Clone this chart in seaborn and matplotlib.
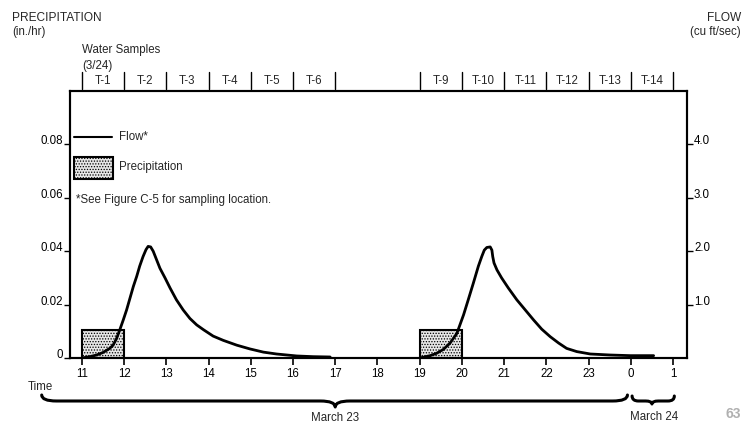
import matplotlib
matplotlib.use("Agg")
import matplotlib.pyplot as plt
import matplotlib.transforms as mtransforms
from matplotlib.path import Path
from matplotlib.patches import PathPatch, Rectangle
from matplotlib.lines import Line2D
import seaborn as sns
import pandas as pd

# ---------------- data ----------------
# flow hydrograph, event 1 (hours on March 23, cu ft/sec)
flow1_hours = [11.0, 11.19, 11.35, 11.51, 11.66, 11.74, 11.82, 11.90, 11.98, 12.06,
               12.14, 12.22, 12.30, 12.37, 12.45, 12.52, 12.57, 12.63, 12.69, 12.77,
               12.85, 12.97, 13.09, 13.24, 13.40, 13.56, 13.72, 13.88, 14.11, 14.35,
               14.67, 14.98, 15.30, 15.61, 16.09, 16.48, 16.88]
flow1_cfs = [0.0, 0.025, 0.056, 0.106, 0.18, 0.24, 0.36, 0.53, 0.71, 0.90,
             1.12, 1.34, 1.53, 1.72, 1.90, 2.03, 2.09, 2.08, 2.00, 1.84,
             1.68, 1.50, 1.31, 1.09, 0.90, 0.74, 0.62, 0.53, 0.41, 0.33,
             0.24, 0.17, 0.11, 0.075, 0.038, 0.025, 0.019]
# flow hydrograph, event 2
flow2_hours = [19.0, 19.25, 19.40, 19.56, 19.72, 19.88, 20.04, 20.15, 20.27, 20.39,
               20.47, 20.53, 20.59, 20.67, 20.71, 20.73, 20.76, 20.83, 20.94, 21.10,
               21.30, 21.50, 21.70, 21.89, 22.09, 22.29, 22.48, 22.72, 23.04, 23.51,
               23.99, 24.54]
flow2_cfs = [0.0, 0.044, 0.088, 0.16, 0.28, 0.46, 0.81, 1.09, 1.40, 1.72,
             1.90, 2.02, 2.07, 2.08, 2.02, 1.90, 1.78, 1.65, 1.50, 1.31,
             1.09, 0.90, 0.71, 0.54, 0.40, 0.28, 0.18, 0.12, 0.075, 0.056,
             0.044, 0.044]

# precipitation (start hour, duration in hours, intensity in./hr)
precip_start = [11, 19]
precip_duration = [1, 1]
precip_rate = [0.0105, 0.0105]

# x-axis hour ticks (24 = midnight March 24)
hour_ticks = [11, 12, 13, 14, 15, 16, 17, 18, 19, 20, 21, 22, 23, 24, 25]
hour_labels = ["11", "12", "13", "14", "15", "16", "17", "18", "19", "20",
               "21", "22", "23", "0", "1"]

left_ticks = [0, 0.02, 0.04, 0.06, 0.08]
left_labels = ["0", "0.02", "0.04", "0.06", "0.08"]
right_ticks = [1, 2, 3, 4]
right_labels = ["1.0", "2.0", "3.0", "4.0"]

# water sample intervals
sample_names = ["T-1", "T-2", "T-3", "T-4", "T-5", "T-6",
                "T-9", "T-10", "T-11", "T-12", "T-13", "T-14"]
sample_start = [11, 12, 13, 14, 15, 16, 19, 20, 21, 22, 23, 24]

# ---------------- style ----------------
sns.set_style("white")
plt.rcParams["font.family"] = ["Liberation Sans", "DejaVu Sans"]
plt.rcParams["hatch.linewidth"] = 0.6
FS = 8.3

W, H = 751, 425
fig = plt.figure(figsize=(W / 100, H / 100), dpi=100)
L, R, T, B = 70, 687, 91, 358
ax = fig.add_axes([L / W, 1 - B / H, (R - L) / W, (B - T) / H])
ax2 = ax.twinx()

ax.set_xlim(10.72, 25.33)
ax.set_ylim(0, 0.1)
ax2.set_ylim(0, 5.0)

# precipitation boxes
ax.bar(precip_start, precip_rate, width=precip_duration, align="edge",
       facecolor="#e6e6e6", edgecolor="black", linewidth=1.5, hatch="......",
       zorder=2)

# flow
df = pd.DataFrame({
    "hour": flow1_hours + flow2_hours,
    "flow": flow1_cfs + flow2_cfs,
    "event": ["a"] * len(flow1_hours) + ["b"] * len(flow2_hours),
})
sns.lineplot(data=df, x="hour", y="flow", units="event", estimator=None,
             color="black", linewidth=2.0, ax=ax2, legend=False, zorder=3,
             solid_joinstyle="round", solid_capstyle="round")

# ticks
ax.set_xticks(hour_ticks)
ax.set_xticklabels(hour_labels, fontsize=FS)
ax.set_yticks(left_ticks)
ax.set_yticklabels(left_labels, fontsize=FS)
ax2.set_yticks(right_ticks)
ax2.set_yticklabels(right_labels, fontsize=FS)
ax.tick_params(axis="x", direction="out", length=5, width=1.2, pad=2, colors="black")
ax.tick_params(axis="y", direction="out", length=4, width=1.0, pad=1, colors="black")
ax2.tick_params(axis="y", direction="out", length=4, width=1.0, pad=1, colors="black")
ax.tick_params(left=True, bottom=True)
ax2.tick_params(right=True)
for lbl in ax.get_yticklabels() + ax2.get_yticklabels():
    lbl.set_va("baseline")
ax.set_xlabel("")
ax.set_ylabel("")
ax2.set_xlabel("")
ax2.set_ylabel("")
for a in (ax, ax2):
    for s in a.spines.values():
        s.set_visible(True)
        s.set_color("black")
        s.set_linewidth(1.5)

# water sample row above axes
trans = mtransforms.blended_transform_factory(ax.transData, ax.transAxes)
for name, st in zip(sample_names, sample_start):
    ax.text(st + 0.5, 1.037, name, transform=trans, ha="center", va="center",
            fontsize=FS, clip_on=False)
bar_positions = sorted(set(sample_start + [s + 1 for s in sample_start]))
for bp in bar_positions:
    ax.add_line(Line2D([bp, bp], [1.007, 1.071], transform=trans, color="black",
                       linewidth=1.0, clip_on=False))

# braces under axis
def brace(x0, x1, xm, ytop, ymid, ybot, d):
    verts = [(x0, ytop), (x0, ymid), (x0 + d, ymid),
             (xm - d, ymid), (xm, ymid), (xm, ybot),
             (xm, ymid), (xm + d, ymid),
             (x1 - d, ymid), (x1, ymid), (x1, ytop)]
    codes = [Path.MOVETO, Path.CURVE3, Path.CURVE3,
             Path.LINETO, Path.CURVE3, Path.CURVE3,
             Path.CURVE3, Path.CURVE3,
             Path.LINETO, Path.CURVE3, Path.CURVE3]
    p = PathPatch(Path(verts, codes), transform=trans, facecolor="none",
                  edgecolor="black", linewidth=2.2, clip_on=False,
                  capstyle="round", joinstyle="round")
    ax.add_patch(p)

def ay(py):
    return (B - py) / (B - T)

brace(10.05, 23.92, 17.0, ay(395), ay(401), ay(407), 0.35)
brace(24.03, 25.03, 24.5, ay(396), ay(401), ay(404), 0.15)

ax.text(17.0, ay(412), "March 23", transform=trans, ha="center", va="top",
        fontsize=FS, clip_on=False)
ax.text(24.55, ay(411), "March 24", transform=trans, ha="center", va="top",
        fontsize=FS, clip_on=False)

# legend (drawn in axes fraction)
ax.add_line(Line2D([0.0065, 0.068], [0.828, 0.828], transform=ax.transAxes,
                   color="black", linewidth=1.5))
ax.text(0.079, 0.828, "Flow*", transform=ax.transAxes, ha="left", va="center",
        fontsize=FS)
ax.add_patch(Rectangle((0.0065, 0.670), 0.063, 0.083, transform=ax.transAxes,
                       facecolor="#e6e6e6", edgecolor="black", linewidth=1.5,
                       hatch="......"))
ax.text(0.0794, 0.715, "Precipitation", transform=ax.transAxes, ha="left",
        va="center", fontsize=FS)
ax.text(0.0097, 0.592, "*See Figure C-5 for sampling location.",
        transform=ax.transAxes, ha="left", va="center", fontsize=FS)

# figure texts
def fy(py):
    return 1 - py / H

fig.text(12 / W, fy(18), "PRECIPITATION", ha="left", va="center", fontsize=8.6)
fig.text(12 / W, fy(32), "(in./hr)", ha="left", va="center", fontsize=FS)
fig.text(741 / W, fy(18), "FLOW", ha="right", va="center", fontsize=8.6)
fig.text(741 / W, fy(32), "(cu ft/sec)", ha="right", va="center", fontsize=FS)
fig.text(82 / W, fy(50), "Water Samples", ha="left", va="center", fontsize=FS)
fig.text(82 / W, fy(66), "(3/24)", ha="left", va="center", fontsize=FS)
fig.text(28 / W, fy(387), "Time", ha="left", va="center", fontsize=FS)
fig.text(733 / W, fy(414), "63", ha="center", va="center", fontsize=10,
         color="#b0b0b0", fontweight="bold")

fig.savefig("out.png", dpi=100, facecolor="white")
